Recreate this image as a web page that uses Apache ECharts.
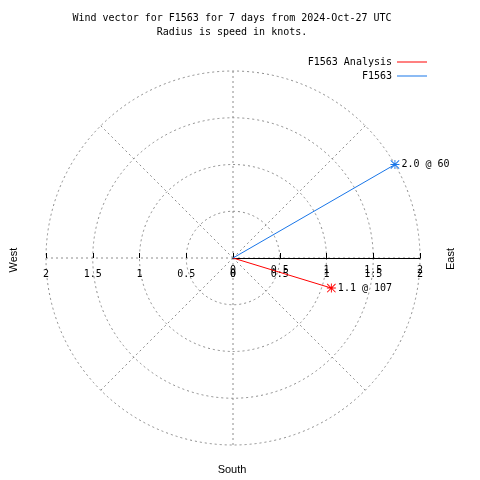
<!DOCTYPE html>
<html>
<head>
<meta charset="utf-8">
<script src="https://cdn.jsdelivr.net/npm/echarts@6/dist/echarts.min.js"></script>
<style>html,body{margin:0;padding:0;background:#fff;}#c{width:480px;height:480px;}</style>
</head>
<body>
<div id="c"></div>
<script>
const titleLines = ['Wind vector for F1563 for 7 days from 2024-Oct-27 UTC', 'Radius is speed in knots.'];
const seriesNames = ['F1563 Analysis', 'F1563'];
const speeds = [1.1, 2.0];
const directions = [107, 60];
const seriesColors = ['#ff0000', '#1976e8'];
const radiusTicks = [0, 0.5, 1, 1.5, 2];
const sideLabels = ['West', 'East', 'South'];

const mono = '"DejaVu Sans Mono", "Liberation Mono", monospace';
const sans = '"Liberation Sans", "DejaVu Sans", sans-serif';
const grey = '#8c8c8c';
const dash = [2, 3];
const star = 'path://M0,4.5H10V5.5H0Z M4.5,0H5.5V10H4.5Z M0.7,0L10,9.3L9.3,10L0,0.7Z M9.3,0L10,0.7L0.7,10L0,9.3Z';
const rMax = radiusTicks[radiusTicks.length - 1];
const rInt = radiusTicks[1] - radiusTicks[0];
const fmtAbs = v => String(Math.abs(Math.round(v * 10) / 10));

const chart = echarts.init(document.getElementById('c'), null, {renderer: 'canvas'});

const series = seriesNames.map((name, i) => ({
  name: name,
  type: 'line',
  coordinateSystem: 'polar',
  polarIndex: 0,
  color: seriesColors[i],
  lineStyle: {color: seriesColors[i], width: 1},
  itemStyle: {color: seriesColors[i]},
  symbolSize: 9,
  data: [
    {value: [0, directions[i]], symbol: 'none'},
    {value: [speeds[i], directions[i]], symbol: star,
     label: {show: true, position: 'right', distance: 2,
             formatter: speeds[i].toFixed(1) + ' @ ' + directions[i],
             fontFamily: mono, fontSize: 10, color: '#000'}}
  ],
  z: 5
}));

const option = {
  animation: false,
  backgroundColor: '#fff',
  polar: [{center: [233, 258], radius: 187}],
  angleAxis: [{
    polarIndex: 0, type: 'value', min: 0, max: 360, interval: 45,
    startAngle: 90, clockwise: true,
    axisLine: {show: false}, axisTick: {show: false}, axisLabel: {show: false},
    splitLine: {show: true, lineStyle: {color: grey, type: dash, width: 1}}
  }],
  radiusAxis: [{
    polarIndex: 0, type: 'value', min: 0, max: rMax, interval: rInt,
    axisLine: {show: false}, axisTick: {show: false}, axisLabel: {show: false},
    splitLine: {show: true, lineStyle: {color: grey, type: dash, width: 1}}
  }],
  grid: [
    {left: 233, width: 187, top: 200, bottom: 222, show: false},
    {left: 46, width: 187, top: 200, bottom: 222, show: false}
  ],
  xAxis: [
    {gridIndex: 0, position: 'bottom', type: 'value', min: 0, max: rMax, interval: rInt,
     axisLine: {show: true, onZero: false, lineStyle: {color: '#000', width: 1}},
     axisTick: {show: true, inside: true, length: 5, lineStyle: {color: '#000'}},
     axisLabel: {show: true, margin: 7, formatter: fmtAbs, fontFamily: mono, fontSize: 10, color: '#000'},
     splitLine: {show: false}, z: 4},
    {gridIndex: 0, position: 'bottom', type: 'value', min: 0, max: rMax, interval: rInt,
     axisLine: {show: false, onZero: false}, axisTick: {show: false},
     axisLabel: {show: true, margin: 11, formatter: fmtAbs, fontFamily: mono, fontSize: 10, color: '#000'},
     splitLine: {show: false}},
    {gridIndex: 1, position: 'bottom', type: 'value', min: -rMax, max: 0, interval: rInt,
     axisLine: {show: false, onZero: false},
     axisTick: {show: true, inside: true, length: 5, lineStyle: {color: '#000'}},
     axisLabel: {show: true, margin: 11, formatter: fmtAbs, fontFamily: mono, fontSize: 10, color: '#000'},
     splitLine: {show: false}}
  ],
  yAxis: [
    {gridIndex: 0, type: 'value', show: false, min: 0, max: 1},
    {gridIndex: 1, type: 'value', show: false, min: 0, max: 1}
  ],
  legend: {
    data: seriesNames,
    orient: 'vertical',
    right: 53, top: 55, padding: 0,
    align: 'right',
    itemGap: 0,
    itemWidth: 30, itemHeight: 1,
    icon: 'rect',
    textStyle: {fontFamily: mono, fontSize: 10, color: '#000', lineHeight: 14}
  },
  graphic: [
    {type: 'text', x: 232, y: 18, style: {text: titleLines[0], font: '10px ' + mono, fill: '#000', align: 'center', verticalAlign: 'middle'}},
    {type: 'text', x: 232, y: 32, style: {text: titleLines[1], font: '10px ' + mono, fill: '#000', align: 'center', verticalAlign: 'middle'}},
    {type: 'text', x: 14, y: 260, rotation: Math.PI / 2, style: {text: sideLabels[0], font: '11px ' + sans, fill: '#000', align: 'center', verticalAlign: 'middle'}},
    {type: 'text', x: 451, y: 259, rotation: Math.PI / 2, style: {text: sideLabels[1], font: '11px ' + sans, fill: '#000', align: 'center', verticalAlign: 'middle'}},
    {type: 'text', x: 232, y: 470, style: {text: sideLabels[2], font: '11px ' + sans, fill: '#000', align: 'center', verticalAlign: 'middle'}}
  ],
  series: series
};
chart.setOption(option);
</script>
</body>
</html>
